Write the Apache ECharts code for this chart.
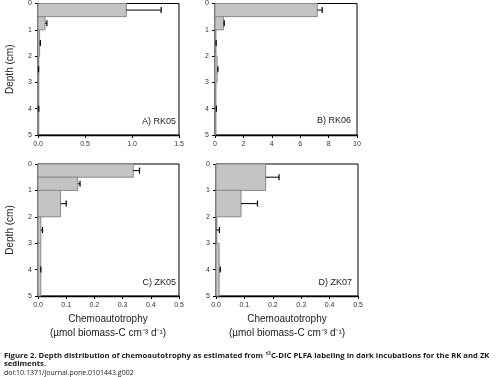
<!DOCTYPE html>
<html>
<head>
<meta charset="utf-8">
<script src="https://cdn.jsdelivr.net/npm/echarts@6/dist/echarts.min.js"></script>
<style>html,body{margin:0;padding:0;background:#fff}#c{width:497px;height:377px}</style>
</head>
<body>
<div id="c"></div>
<script>
// Depth intervals (cm): [top, bottom]
var depthTop = [0, 0.5, 1, 2, 3];
var depthBottom = [0.5, 1, 2, 3, 5];
var depthTopD = [0, 1, 2, 3];
var depthBottomD = [1, 2, 3, 5];

// Chemoautotrophy values and error (umol biomass-C cm-3 d-1)
var rk05Values = [0.94, 0.075, 0.017, 0.004, 0.004];
var rk05Errors = [0.37, 0.02, 0.008, 0.002, 0.004];
var rk06Values = [7.2, 0.6, 0.05, 0.15, 0.05];
var rk06Errors = [0.35, 0.05, 0.03, 0.06, 0.05];
var zk05Values = [0.338, 0.141, 0.08, 0.01, 0.01];
var zk05Errors = [0.022, 0.008, 0.02, 0.006, 0.0];
var zk07Values = [0.175, 0.088, 0.001, 0.011];
var zk07Errors = [0.047, 0.058, 0.011, 0.004];

var panelLabels = ['A) RK05', 'B) RK06', 'C) ZK05', 'D) ZK07'];
var xMax = [1.5, 10, 0.5, 0.5];
var xInterval = [0.5, 2, 0.1, 0.1];
var yTicks = [0, 1, 2, 3, 4, 5];

function rows(tops, bottoms, vals, errs) {
  return tops.map(function (t, i) { return [t, bottoms[i], vals[i], errs[i]]; });
}
var panelData = [
  rows(depthTop, depthBottom, rk05Values, rk05Errors),
  rows(depthTop, depthBottom, rk06Values, rk06Errors),
  rows(depthTop, depthBottom, zk05Values, zk05Errors),
  rows(depthTopD, depthBottomD, zk07Values, zk07Errors)
];

var grids = [
  {left: 38, top: 3, width: 141, height: 132},
  {left: 215, top: 3, width: 142, height: 132},
  {left: 38, top: 164, width: 141, height: 132},
  {left: 216, top: 164, width: 142, height: 132}
];

var FONT = 'Liberation Sans, Arial, sans-serif';

function renderItem(params, api) {
  var y0 = api.value(0), y1 = api.value(1), v = api.value(2), e = api.value(3);
  var p0 = api.coord([0, y0]);
  var p1 = api.coord([v, y1]);
  var mid = (y0 + y1) / 2;
  var pm = api.coord([v, mid]);
  var pe = api.coord([v + e, mid]);
  var children = [{
    type: 'rect',
    shape: {x: p0[0], y: p0[1], width: p1[0] - p0[0], height: p1[1] - p0[1]},
    style: {fill: '#c4c4c4', stroke: '#8a8a8a', lineWidth: 1}
  }];
  if (e > 0) {
    children.push({
      type: 'line',
      shape: {x1: pm[0], y1: pm[1], x2: pe[0], y2: pe[1]},
      style: {stroke: '#000', lineWidth: 1}
    });
  }
  children.push({
    type: 'line',
    shape: {x1: pe[0], y1: pe[1] - 3, x2: pe[0], y2: pe[1] + 3},
    style: {stroke: '#000', lineWidth: 1.2}
  });
  return {type: 'group', children: children};
}

var xAxes = [], yAxes = [], series = [], gridList = [];
for (var i = 0; i < 4; i++) {
  gridList.push(Object.assign({show: true, borderColor: '#000', borderWidth: 1, backgroundColor: 'transparent'}, grids[i]));
  (function (idx) {
    xAxes.push({
      type: 'value', gridIndex: idx, min: 0, max: xMax[idx], interval: xInterval[idx],
      axisLine: {show: true, onZero: false, lineStyle: {color: '#000', width: 1.3}},
      axisTick: {show: true, length: 3, lineStyle: {color: '#000'}},
      splitLine: {show: false},
      axisLabel: {
        fontFamily: FONT, fontSize: 7, color: '#333', margin: 6,
        formatter: function (v) { return idx === 1 ? String(Math.round(v)) : v.toFixed(1); }
      }
    });
  })(i);
  yAxes.push({
    type: 'value', gridIndex: i, min: 0, max: 5, interval: 1, inverse: true,
    name: (i === 0 || i === 2) ? 'Depth (cm)' : '',
    nameLocation: 'middle', nameGap: 23,
    nameTextStyle: {fontFamily: FONT, fontSize: 10, color: '#222'},
    axisLine: {show: true, onZero: false, lineStyle: {color: '#000', width: 1.3}},
    axisTick: {show: true, length: 3, lineStyle: {color: '#000'}},
    splitLine: {show: false},
    axisLabel: {fontFamily: FONT, fontSize: 7, color: '#333', margin: 6,
      formatter: function (v) { return yTicks.indexOf(v) >= 0 ? String(v) : ''; }}
  });
  series.push({
    type: 'custom', xAxisIndex: i, yAxisIndex: i,
    renderItem: renderItem, data: panelData[i], clip: false, silent: true,
    encode: {x: 2, y: [0, 1]}
  });
}

var graphics = [];
var labelPos = [[176, 122], [351, 121], [176, 283], [352, 283]];
for (var k = 0; k < 4; k++) {
  graphics.push({type: 'text', x: labelPos[k][0], y: labelPos[k][1],
    style: {text: panelLabels[k], font: '9px ' + FONT, fill: '#222', textAlign: 'right', textVerticalAlign: 'middle'}});
}
var axisTitleX = [108, 287];
axisTitleX.forEach(function (cx) {
  graphics.push({type: 'text', x: cx, y: 319,
    style: {text: 'Chemoautotrophy', font: '10px ' + FONT, fill: '#222', textAlign: 'center', textVerticalAlign: 'middle'}});
  graphics.push({type: 'text', x: cx, y: 333,
    style: {text: '(\u00b5mol biomass-C cm\u207b\u00b3 d\u207b\u00b9)', font: '10px ' + FONT, fill: '#222', textAlign: 'center', textVerticalAlign: 'middle'}});
});
graphics.push({type: 'text', x: 4, y: 356,
  style: {text: 'Figure 2. Depth distribution of chemoautotrophy as estimated from \u00b9\u00b3C-DIC PLFA labeling in dark incubations for the RK and ZK',
    font: 'bold 7.7px "Open Sans", sans-serif', fill: '#1a1a1a', textAlign: 'left', textVerticalAlign: 'middle'}});
graphics.push({type: 'text', x: 4, y: 364,
  style: {text: 'sediments.', font: 'bold 7.7px "Open Sans", sans-serif', fill: '#1a1a1a', textAlign: 'left', textVerticalAlign: 'middle'}});
graphics.push({type: 'text', x: 4, y: 373,
  style: {text: 'doi:10.1371/journal.pone.0101443.g002', font: '7px "Open Sans", sans-serif', fill: '#1a1a1a', textAlign: 'left', textVerticalAlign: 'middle'}});

var chart = echarts.init(document.getElementById('c'), null, {renderer: 'canvas'});
chart.setOption({
  animation: false,
  backgroundColor: '#fff',
  grid: gridList,
  xAxis: xAxes,
  yAxis: yAxes,
  series: series,
  graphic: graphics
});
</script>
</body>
</html>
